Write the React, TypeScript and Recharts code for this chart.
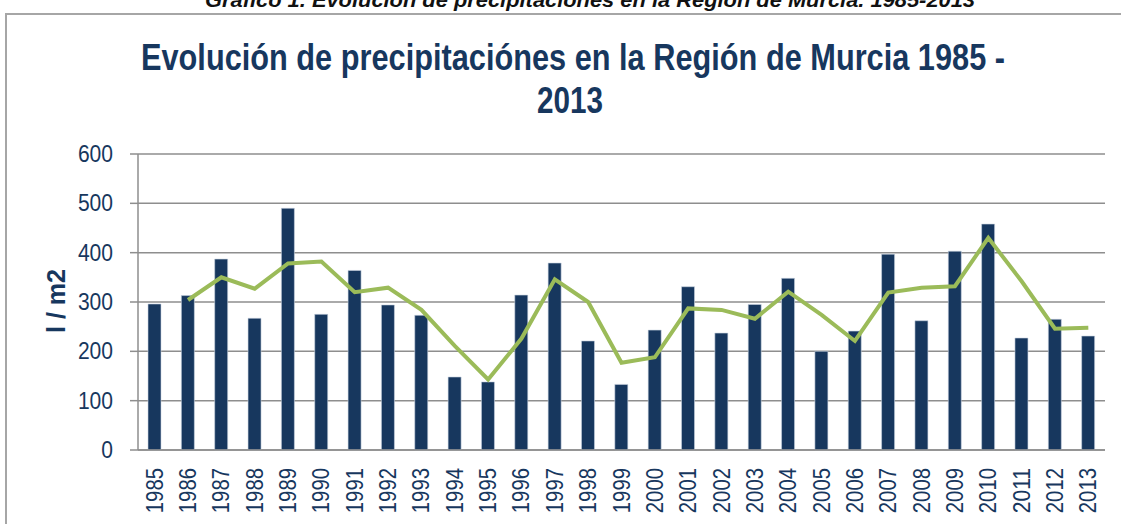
import { ComposedChart, Bar, Line, XAxis, YAxis, CartesianGrid } from 'recharts';

const years = [
  '1985', '1986', '1987', '1988', '1989', '1990', '1991', '1992', '1993', '1994',
  '1995', '1996', '1997', '1998', '1999', '2000', '2001', '2002', '2003', '2004',
  '2005', '2006', '2007', '2008', '2009', '2010', '2011', '2012', '2013',
];

// l/m2 por año
const precipitacion = [
  296, 313, 387, 267, 490, 275, 364, 294, 273, 148,
  138, 314, 379, 221, 133, 243, 331, 237, 295, 348,
  200, 241, 397, 262, 403, 458, 227, 265, 231,
];

// media móvil (2 per.)
const tendencia: (number | null)[] = [
  null, 304, 350, 327, 378, 382, 320, 329, 284, 211,
  143, 226, 346, 300, 177, 188, 287, 284, 266, 321,
  274, 221, 319, 329, 332, 430, 342, 246, 248,
];

const yTicks = [0, 100, 200, 300, 400, 500, 600];
const edgeTicks = Array.from({ length: years.length + 1 }, (_, i) => i);

const data = years.map((year, i) => ({
  year,
  valor: precipitacion[i],
  media: tendencia[i],
}));

const NAVY = '#17375E';
const GRID = '#8E8E8E';
const FONT = "'Liberation Sans', Arial, sans-serif";
const DIGIT_W = 11.3;

const YearTick = (props: any) => {
  const { x, payload } = props;
  const y = 468;
  const label = String(payload.value);
  return (
    <text
      x={x}
      y={y}
      transform={`rotate(-90 ${x} ${y})`}
      textAnchor="end"
      dominantBaseline="central"
      fill={NAVY}
      fontSize={23}
      fontFamily={FONT}
      textLength={label.length * DIGIT_W}
      lengthAdjust="spacingAndGlyphs"
    >
      {label}
    </text>
  );
};

const ValueTick = (props: any) => {
  const { x, y, payload } = props;
  const label = String(payload.value);
  return (
    <text
      x={x}
      y={y}
      textAnchor="end"
      dominantBaseline="central"
      fill={NAVY}
      fontSize={23}
      fontFamily={FONT}
      textLength={label.length * 11.7}
      lengthAdjust="spacingAndGlyphs"
    >
      {label}
    </text>
  );
};

export default function App() {
  return (
    <div
      style={{
        position: 'absolute',
        left: 0,
        top: 0,
        width: 1121,
        height: 524,
        overflow: 'hidden',
        background: '#fff',
      }}
    >
      <div
        style={{
          position: 'absolute',
          left: 5,
          top: 13,
          width: 1200,
          height: 600,
          border: '2px solid #A6A6A6',
          boxSizing: 'border-box',
        }}
      />
      <ComposedChart
        width={1121}
        height={524}
        data={data}
        margin={{ top: 154, right: 16, bottom: 0, left: 0 }}
        style={{ position: 'absolute', left: 0, top: 0 }}
      >
        <CartesianGrid vertical={false} stroke={GRID} strokeWidth={1.5} />
        <XAxis
          xAxisId="edges"
          type="number"
          domain={[0, years.length]}
          ticks={edgeTicks}
          allowDataOverflow
          tick={false}
          axisLine={false}
          tickLine={{ stroke: GRID, strokeWidth: 1.5 }}
          tickSize={7}
          height={0}
        />
        <XAxis
          dataKey="year"
          interval={0}
          tickLine={false}
          axisLine={{ stroke: GRID, strokeWidth: 1.5 }}
          tick={<YearTick />}
          height={74}
        />
        <YAxis
          domain={[0, 600]}
          ticks={yTicks}
          width={138}
          tickSize={8}
          tickMargin={17}
          tickLine={{ stroke: GRID, strokeWidth: 1.5 }}
          axisLine={{ stroke: GRID, strokeWidth: 1.5 }}
          tick={<ValueTick />}
        />
        <Bar
          dataKey="valor"
          fill={NAVY}
          stroke="#C9D3E0"
          strokeWidth={0.6}
          barSize={13}
          isAnimationActive={false}
        />
        <Line
          dataKey="media"
          type="linear"
          stroke="#9BBB59"
          strokeWidth={4}
          dot={false}
          activeDot={false}
          isAnimationActive={false}
        />
      </ComposedChart>
      <svg
        width={1121}
        height={524}
        style={{ position: 'absolute', left: 0, top: 0, pointerEvents: 'none' }}
      >
        <text
          x={205}
          y={7}
          textLength={770}
          lengthAdjust="spacingAndGlyphs"
          fontFamily={FONT}
          fontWeight="bold"
          fontStyle="italic"
          fontSize={21}
          fill="#111"
        >
          Gráfico 1. Evolución de precipitaciones en la Región de Murcia. 1985-2013
        </text>
        <text
          x={141}
          y={70}
          textLength={864}
          lengthAdjust="spacingAndGlyphs"
          fontFamily={FONT}
          fontWeight="bold"
          fontSize={37}
          fill={NAVY}
        >
          Evolución de precipitaciónes en la Región de Murcia 1985 -
        </text>
        <text
          x={537}
          y={113}
          textLength={66}
          lengthAdjust="spacingAndGlyphs"
          fontFamily={FONT}
          fontWeight="bold"
          fontSize={37}
          fill={NAVY}
        >
          2013
        </text>
        <text
          x={56}
          y={301}
          transform="rotate(-90 56 301)"
          textAnchor="middle"
          dominantBaseline="central"
          fontFamily={FONT}
          fontWeight="bold"
          fontSize={25}
          fill={NAVY}
        >
          l / m2
        </text>
      </svg>
    </div>
  );
}
